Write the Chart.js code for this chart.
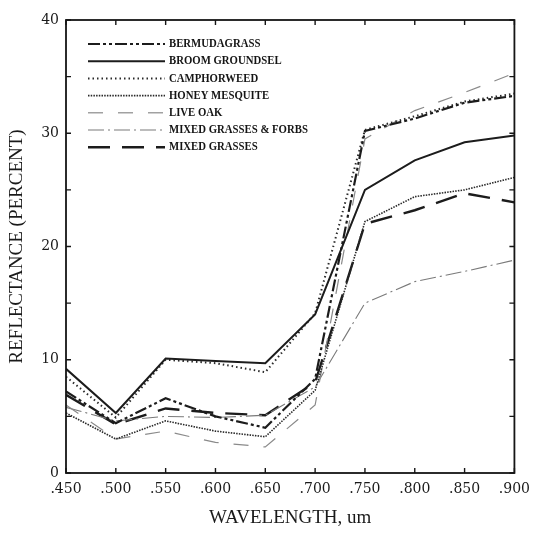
<!DOCTYPE html>
<html>
<head>
<meta charset="utf-8">
<script src="https://cdn.jsdelivr.net/npm/chart.js@4/dist/chart.umd.min.js"></script>
<style>
html,body{margin:0;padding:0;background:#fff;}
#wrap{width:538px;height:533px;}
</style>
</head>
<body>
<div id="wrap"><canvas id="c" width="538" height="533"></canvas></div>
<script>
const wavelengths = [0.45, 0.50, 0.55, 0.60, 0.65, 0.70, 0.75, 0.80, 0.85, 0.90];
const seriesNames = ["BERMUDAGRASS","BROOM GROUNDSEL","CAMPHORWEED","HONEY MESQUITE","LIVE OAK","MIXED GRASSES & FORBS","MIXED GRASSES"];
const bermudagrass   = [7.2, 4.4, 6.6, 5.0, 4.0, 8.3, 30.2, 31.3, 32.7, 33.3];
const broomGroundsel = [9.2, 5.3, 10.1, 9.9, 9.7, 14.0, 25.0, 27.6, 29.2, 29.8];
const camphorweed    = [8.5, 4.9, 10.0, 9.7, 8.9, 14.1, 30.3, 31.5, 32.8, 33.5];
const honeyMesquite  = [5.3, 3.0, 4.6, 3.7, 3.2, 7.3, 22.2, 24.4, 25.0, 26.1];
const liveOak        = [6.0, 3.0, 3.7, 2.7, 2.3, 6.0, 29.5, 32.0, 33.6, 35.3];
const mixedForbs     = [5.8, 4.6, 5.0, 4.9, 5.1, 7.6, 15.0, 16.9, 17.8, 18.8];
const mixedGrasses   = [6.9, 4.3, 5.7, 5.3, 5.1, 8.0, 22.0, 23.2, 24.7, 23.9];
const yTickLabels = [0, 10, 20, 30, 40];

const seriesValues = [bermudagrass, broomGroundsel, camphorweed, honeyMesquite, liveOak, mixedForbs, mixedGrasses];
const styles = [
  {color:'#1c1c1c', width:2.2, dash:[12,3,3,3,3,3]},
  {color:'#1c1c1c', width:2.0, dash:[]},
  {color:'#2a2a2a', width:2.0, dash:[1.5,3]},
  {color:'#2a2a2a', width:1.6, dash:[1.5,1.2]},
  {color:'#8a8a8a', width:1.2, dash:[15,15]},
  {color:'#7a7a7a', width:1.1, dash:[16,4,2,4]},
  {color:'#1c1c1c', width:2.4, dash:[22,12]}
];

const datasets = seriesNames.map((name, i) => ({
  label: name,
  data: wavelengths.map((w, j) => ({x: w, y: seriesValues[i][j]})),
  borderColor: styles[i].color,
  borderWidth: styles[i].width,
  borderDash: styles[i].dash,
  pointRadius: 0,
  tension: 0,
  fill: false
}));

const framePlugin = {
  id: 'frame',
  afterDraw(chart) {
    const ctx = chart.ctx, a = chart.chartArea;
    const xs = chart.scales.x, ys = chart.scales.y;
    ctx.save();
    ctx.strokeStyle = '#151515';
    ctx.lineWidth = 1.8;
    ctx.setLineDash([]);
    ctx.strokeRect(a.left, a.top, a.right - a.left, a.bottom - a.top);
    ctx.lineWidth = 1.4;
    const L = 5;
    xs.ticks.forEach(t => {
      const px = xs.getPixelForValue(t.value);
      ctx.beginPath();
      ctx.moveTo(px, a.bottom); ctx.lineTo(px, a.bottom - L);
      ctx.moveTo(px, a.top); ctx.lineTo(px, a.top + L);
      ctx.stroke();
    });
    ys.ticks.forEach(t => {
      const py = ys.getPixelForValue(t.value);
      ctx.beginPath();
      ctx.moveTo(a.left, py); ctx.lineTo(a.left + L, py);
      ctx.moveTo(a.right, py); ctx.lineTo(a.right - L, py);
      ctx.stroke();
    });
    // legend
    const x0 = 88, x1 = 165, tx = 169, y0 = 44, dy = 17.2;
    chart.data.datasets.forEach((ds, i) => {
      const y = y0 + i * dy;
      ctx.beginPath();
      ctx.strokeStyle = ds.borderColor;
      ctx.lineWidth = ds.borderWidth;
      ctx.setLineDash(ds.borderDash);
      ctx.moveTo(x0, y); ctx.lineTo(x1, y);
      ctx.stroke();
      ctx.setLineDash([]);
      ctx.save();
      ctx.translate(tx, y);
      ctx.scale(0.86, 1);
      ctx.fillStyle = '#151515';
      ctx.font = 'bold 12.5px "Liberation Serif"';
      ctx.textBaseline = 'middle';
      ctx.textAlign = 'left';
      ctx.fillText(ds.label, 0, 0);
      ctx.restore();
    });
    ctx.restore();
  }
};

new Chart(document.getElementById('c'), {
  type: 'line',
  data: { datasets },
  options: {
    responsive: false,
    animation: false,
    devicePixelRatio: 1,
    layout: { padding: { left: 0, right: 15, top: 20, bottom: 0 } },
    plugins: { legend: { display: false }, tooltip: { enabled: false } },
    scales: {
      x: {
        type: 'linear',
        min: 0.45, max: 0.90,
        afterBuildTicks(scale) { scale.ticks = wavelengths.map(v => ({value: v})); },
        afterFit(scale) { scale.height = 60; },
        grid: { display: false, drawTicks: false },
        border: { display: false },
        ticks: {
          padding: 8,
          color: '#1a1a1a',
          font: { family: '"DejaVu Serif"', size: 14 },
          maxRotation: 0,
          autoSkip: false,
          callback: v => v.toFixed(3).replace(/^0/, '')
        },
        title: {
          display: true,
          text: 'WAVELENGTH, um',
          color: '#1a1a1a',
          font: { family: '"Liberation Serif"', size: 19 },
          padding: { top: 4, bottom: 4 }
        }
      },
      y: {
        type: 'linear',
        min: 0, max: 40,
        ticks: {
          stepSize: 5,
          padding: 7,
          color: '#1a1a1a',
          font: { family: '"DejaVu Serif"', size: 14 },
          callback: v => yTickLabels.includes(v) ? String(v) : ''
        },
        afterFit(scale) { scale.width = 66; },
        grid: { display: false, drawTicks: false },
        border: { display: false },
        title: {
          display: true,
          text: 'REFLECTANCE (PERCENT)',
          color: '#1a1a1a',
          font: { family: '"Liberation Serif"', size: 19 },
          padding: { top: 6, bottom: 4 }
        }
      }
    }
  },
  plugins: [framePlugin]
});
</script>
</body>
</html>
